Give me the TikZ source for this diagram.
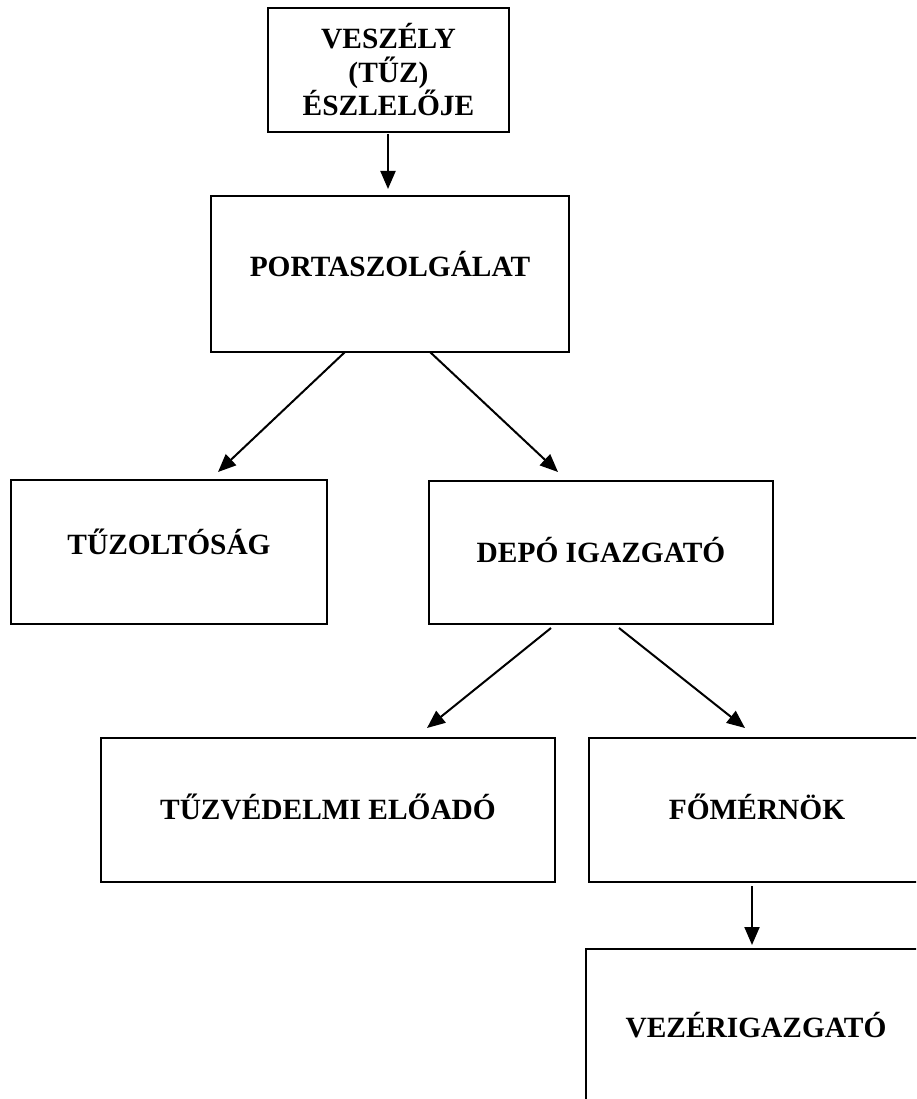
\documentclass[tikz,border=0pt]{standalone}
\usepackage{fontspec}
\setmainfont{Liberation Serif}
\usetikzlibrary{arrows.meta}
\tikzset{
  box/.style={draw, line width=2pt, rectangle, inner sep=0pt, outer sep=0pt,
    font={\fontsize{29.4}{33.5}\selectfont\bfseries}, text height=19pt, text depth=0pt},
  raised/.style={text depth=14pt},
  arr/.style={line width=2pt, -{Triangle[length=18pt,width=15pt]}}
}
\begin{document}
\begin{tikzpicture}[x=1pt,y=-1pt]
\clip (0,0) rectangle (916,1099);
\fill[white] (0,0) rectangle (916,1099);
\node[box, minimum width=241pt, minimum height=124pt, align=center, text height=, text depth=] (det) at (388.5,70) {VESZÉLY\\(TŰZ)\\ÉSZLELŐJE};
\node[box, raised, minimum width=358pt, minimum height=156pt] (port) at (390,274) {PORTASZOLGÁLAT};
\node[box, raised, minimum width=316pt, minimum height=144pt] (tuz) at (169,552) {TŰZOLTÓSÁG};
\node[box, minimum width=344pt, minimum height=143pt] (depo) at (601,552.5) {DEPÓ IGAZGATÓ};
\node[box, minimum width=454pt, minimum height=144pt] (tuzv) at (328,810) {TŰZVÉDELMI ELŐADÓ};
\node[box, minimum width=336pt, minimum height=144pt] (fomer) at (757,810) {FŐMÉRNÖK};
\node[box, minimum width=340pt, minimum height=158pt] (vezer) at (756,1028) {VEZÉRIGAZGATÓ};
\draw[arr] ([xshift=-0.5pt,yshift=-2pt]det.south) -- ([xshift=-2pt,yshift=7pt]port.north);
\draw[arr] ([xshift=-45pt]port.south) -- ([xshift=49pt,yshift=8pt]tuz.north);
\draw[arr] ([xshift=40pt]port.south) -- ([xshift=-43pt,yshift=9pt]depo.north);
\draw[arr] ([xshift=-50pt,yshift=-4pt]depo.south) -- ([xshift=99pt,yshift=10pt]tuzv.north);
\draw[arr] ([xshift=18pt,yshift=-4pt]depo.south) -- ([xshift=-12pt,yshift=10pt]fomer.north);
\draw[arr] ([xshift=-5pt,yshift=-4pt]fomer.south) -- ([xshift=-4pt,yshift=4pt]vezer.north);
\end{tikzpicture}
\end{document}
